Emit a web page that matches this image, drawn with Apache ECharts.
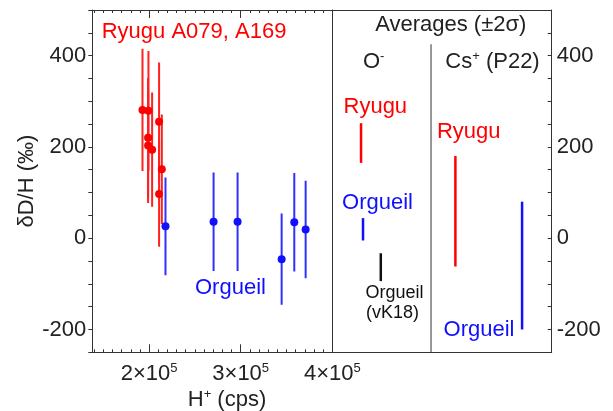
<!DOCTYPE html>
<html><head><meta charset="utf-8">
<script src="https://cdn.jsdelivr.net/npm/echarts@6/dist/echarts.min.js"></script>
<style>html,body{margin:0;padding:0;background:#fff}#c{width:613px;height:411px}</style>
</head><body><div id="c"></div>
<script>
// ---- data ----
const ryuguH   = [192800, 199300, 198900, 198900, 203300, 210900, 213900, 210900];
const ryuguD   = [281, 279, 220, 203, 194, 255, 151, 97];
const ryuguErr = [134, 131, 131, 126, 125, 130, 120, 116];

const orgueilH   = [217900, 270400, 296600, 344700, 358500, 370900];
const orgueilD   = [26, 36, 36, -46, 35, 19];
const orgueilErr = [107, 108, 108, 100, 108, 107];

// averages (±2σ): low / high ends
const avgNames = ['O- Ryugu', 'O- Orgueil', 'O- Orgueil (vK18)', 'Cs+ Ryugu', 'Cs+ Orgueil'];
const avgLow   = [165, -5, -94, -62, -200];
const avgHigh  = [252, 44, -33, 180, 80];

const xTickLabels = [200000, 300000, 400000];
const yTickLabels = [-200, 0, 200, 400];

// ---- layout / style (not data) ----
const avgPos    = [13.1, 14.0, 22.1, 56.1, 86.5];   // horizontal slot in right panel (0..100)
const avgColors = ['#ff0000', '#1010ff', '#111111', '#ff0000', '#1010ff'];
const divider   = {x: 45, from: -250, to: 425};
const FONT = '"Liberation Sans", Arial, sans-serif';
const TXT = '#222';
const LINE = '#333';

const minorX = [];
for (let v = 140000; v <= 390000; v += 10000) minorX.push(v);

const chart = echarts.init(document.getElementById('c'), null, {renderer: 'canvas'});

const errData = (xs, ys, es) => xs.map((x, i) => [x, ys[i] - es[i], ys[i] + es[i]]);

function barRender(width) {
  return function (params, api) {
    const x = api.value(0), lo = api.value(1), hi = api.value(2);
    const p1 = api.coord([x, lo]), p2 = api.coord([x, hi]);
    const ci = api.value(3);
    return {
      type: 'line',
      shape: {x1: p1[0], y1: p1[1], x2: p2[0], y2: p2[1]},
      style: {stroke: isNaN(ci) ? api.visual('color') : avgColors[ci], lineWidth: width}
    };
  };
}

const xBase = {
  type: 'value', gridIndex: 0, min: 138000, max: 400000,
  splitLine: {show: false},
  axisLine: {onZero: false, lineStyle: {color: LINE, width: 1}}
};

function supLabel(v) { return '{a|' + (v / 1e5) + '×10}{s|5}'; }

const option = {
  animation: false,
  backgroundColor: '#fff',
  textStyle: {fontFamily: FONT},
  grid: [
    {left: 92.3, top: 10, width: 240, height: 342.3, outerBoundsMode: 'none', containLabel: false},
    {left: 332.3, top: 10, width: 219.4, height: 342.3, outerBoundsMode: 'none', containLabel: false}
  ],
  xAxis: [
    Object.assign({}, xBase, {
      position: 'bottom',
      axisTick: {show: true, inside: true, length: 8, customValues: xTickLabels, lineStyle: {color: LINE}},
      axisLabel: {
        customValues: xTickLabels, margin: 10, color: TXT,
        formatter: supLabel,
        rich: {a: {fontSize: 22, fontFamily: FONT, color: TXT, lineHeight: 24},
               s: {fontSize: 13, fontFamily: FONT, color: TXT, verticalAlign: 'top', lineHeight: 14}}
      }
    }),
    Object.assign({}, xBase, {
      position: 'bottom', axisLine: {show: false, onZero: false},
      axisTick: {show: true, inside: true, length: 3, customValues: minorX, lineStyle: {color: LINE}},
      axisLabel: {show: false}
    }),
    Object.assign({}, xBase, {
      position: 'top',
      axisTick: {show: true, inside: true, length: 8, customValues: xTickLabels, lineStyle: {color: LINE}},
      axisLabel: {show: false}
    }),
    Object.assign({}, xBase, {
      position: 'top', axisLine: {show: false, onZero: false},
      axisTick: {show: true, inside: true, length: 3, customValues: minorX, lineStyle: {color: LINE}},
      axisLabel: {show: false}
    }),
    {type: 'value', gridIndex: 1, min: 0, max: 100, position: 'bottom', splitLine: {show: false},
     axisLine: {onZero: false, lineStyle: {color: LINE}}, axisTick: {show: false}, axisLabel: {show: false}},
    {type: 'value', gridIndex: 1, min: 0, max: 100, position: 'top', splitLine: {show: false},
     axisLine: {onZero: false, lineStyle: {color: LINE}}, axisTick: {show: false}, axisLabel: {show: false}}
  ],
  yAxis: [
    {type: 'value', gridIndex: 0, min: -250, max: 500, interval: 50, position: 'left',
     splitLine: {show: false},
     axisLine: {onZero: false, lineStyle: {color: LINE}},
     axisTick: {show: true, inside: false, length: 4, lineStyle: {color: LINE}},
     axisLabel: {customValues: yTickLabels, fontSize: 22, color: TXT, margin: 6, fontFamily: FONT},
     name: 'δD/H (‰)', nameLocation: 'middle', nameRotate: 90, nameGap: 54,
     nameTextStyle: {fontSize: 22, color: TXT, fontFamily: FONT}},
    {type: 'value', gridIndex: 1, min: -250, max: 500, position: 'left',
     splitLine: {show: false},
     axisLine: {onZero: false, lineStyle: {color: LINE}},
     axisTick: {show: false}, axisLabel: {show: false}},
    {type: 'value', gridIndex: 1, min: -250, max: 500, interval: 50, position: 'right',
     splitLine: {show: false},
     axisLine: {onZero: false, lineStyle: {color: LINE}},
     axisTick: {show: true, inside: true, length: 4, lineStyle: {color: LINE}},
     axisLabel: {customValues: yTickLabels, fontSize: 22, color: TXT, margin: 5, fontFamily: FONT}}
  ],
  series: [
    {type: 'custom', name: 'Ryugu err', xAxisIndex: 0, yAxisIndex: 0, itemStyle: {color: '#ff2020'},
     renderItem: barRender(2), data: errData(ryuguH, ryuguD, ryuguErr), clip: true, z: 2},
    {type: 'custom', name: 'Orgueil err', xAxisIndex: 0, yAxisIndex: 0, itemStyle: {color: '#3030ff'},
     renderItem: barRender(2), data: errData(orgueilH, orgueilD, orgueilErr), clip: true, z: 2},
    {type: 'scatter', name: 'Ryugu', xAxisIndex: 0, yAxisIndex: 0, symbolSize: 8,
     itemStyle: {color: '#ff0000', opacity: 1}, data: ryuguH.map((x, i) => [x, ryuguD[i]]), z: 3},
    {type: 'scatter', name: 'Orgueil', xAxisIndex: 0, yAxisIndex: 0, symbolSize: 8,
     itemStyle: {color: '#1010ff', opacity: 1}, data: orgueilH.map((x, i) => [x, orgueilD[i]]), z: 3},
    {type: 'custom', name: 'Averages', xAxisIndex: 4, yAxisIndex: 2,
     renderItem: barRender(2.5), data: avgNames.map((n, i) => [avgPos[i], avgLow[i], avgHigh[i], i]), z: 2},
    {type: 'custom', name: 'divider', xAxisIndex: 4, yAxisIndex: 2, itemStyle: {color: LINE},
     renderItem: barRender(1), data: [[divider.x, divider.from, divider.to]], z: 1}
  ],
  graphic: (function () {
    const t = (x, y, text, color, size, align, rich) => ({
      type: 'text', x: x, y: y, silent: true, z: 10,
      style: {text: text, fill: color, font: size + 'px ' + FONT, align: align || 'center',
              verticalAlign: 'middle', rich: rich}
    });
    const sup = (c) => ({a: {fontSize: 22, fontFamily: FONT, fill: c, lineHeight: 24},
                         s: {fontSize: 13, fontFamily: FONT, fill: c, verticalAlign: 'top', lineHeight: 14}});
    return [
      t(101.7, 32.3, 'Ryugu A079, A169', '#ff0000', 22, 'left'),
      t(195, 288.3, 'Orgueil', '#1010ff', 22, 'left'),
      t(450.8, 25, 'Averages (±2σ)', TXT, 22),
      t(363, 61.7, '{a|O}{s|-}', TXT, 22, 'left', sup(TXT)),
      t(492.5, 61.7, '{a|Cs}{s|+}{a| (P22)}', TXT, 22, 'center', sup(TXT)),
      t(375.3, 106.7, 'Ryugu', '#ff0000', 22),
      t(377.5, 203.3, 'Orgueil', '#1010ff', 22),
      t(394.5, 292.7, 'Orgueil', '#111', 18),
      t(392.5, 313.3, '(vK18)', '#111', 18),
      t(468.7, 132.3, 'Ryugu', '#ff0000', 22),
      t(479, 330, 'Orgueil', '#1010ff', 22),
      t(227, 400, '{a|H}{s|+}{a| (cps)}', TXT, 22, 'center', sup(TXT))
    ];
  })()
};
chart.setOption(option);
</script>
</body></html>
